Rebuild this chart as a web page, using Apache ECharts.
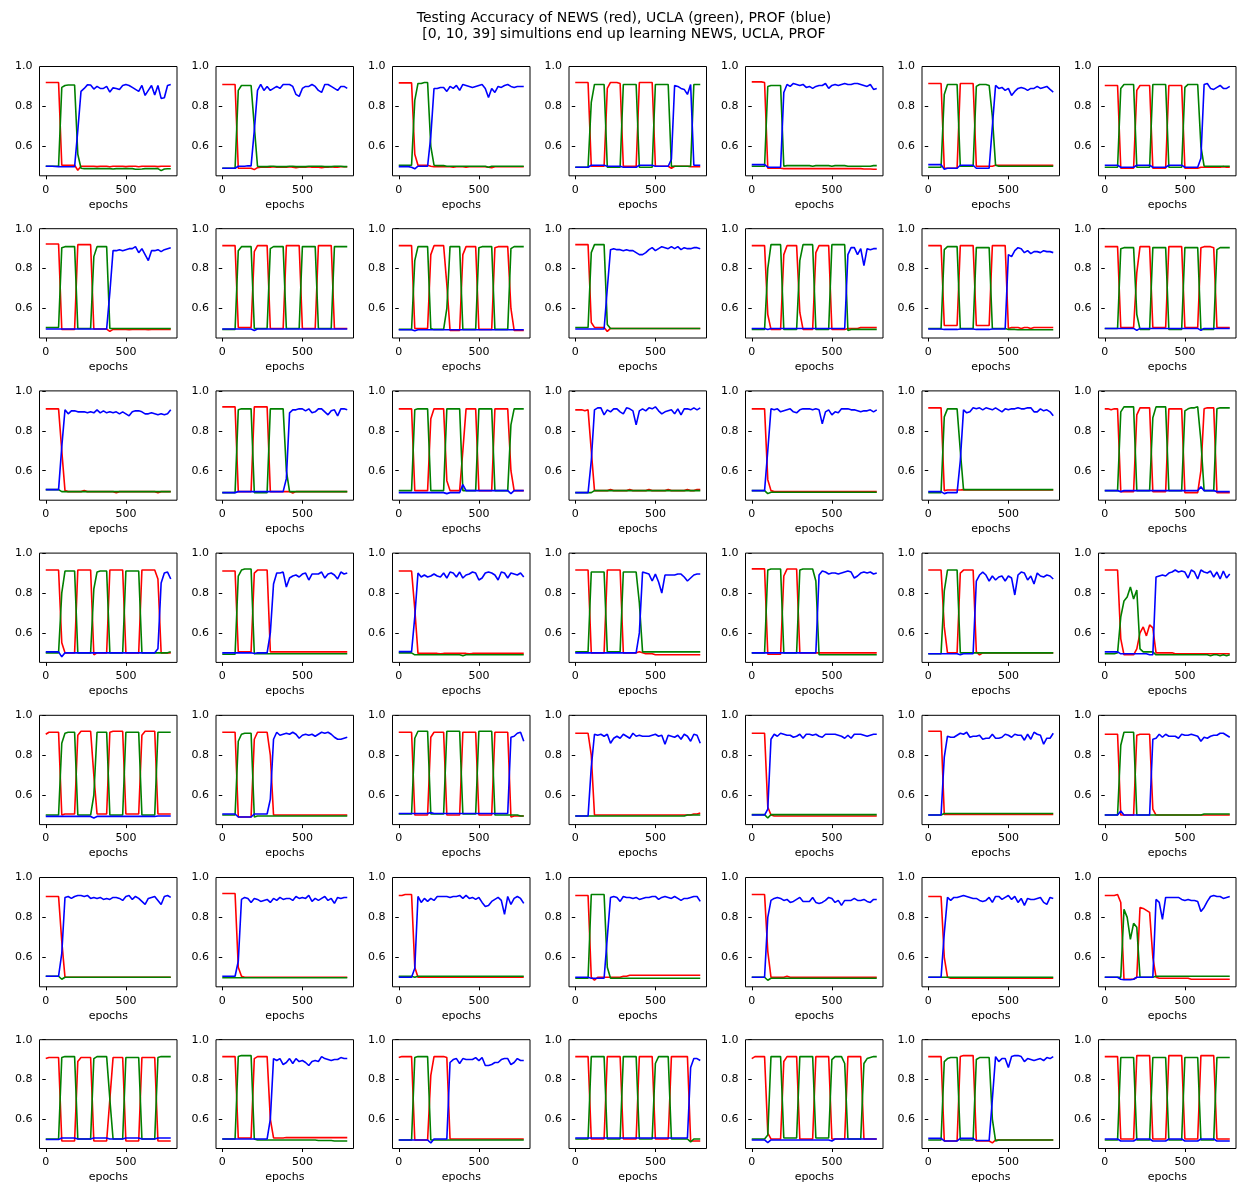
<!DOCTYPE html>
<html>
<head>
<meta charset="utf-8">
<script src="https://cdn.jsdelivr.net/npm/echarts@6.0.0/dist/echarts.min.js"></script>
<style>
html,body{margin:0;padding:0;background:#fff;}
#chart{width:1238px;height:1184px;}
</style>
</head>
<body>
<div id="chart"></div>
<script>
const TITLE_LINE1 = "Testing Accuracy of NEWS (red), UCLA (green), PROF (blue)";
const TITLE_LINE2 = "[0, 10, 39] simultions end up learning NEWS, UCLA, PROF";
const X_LABEL = "epochs";
const X_TICKS = [0, 500];
const Y_TICKS = [0.6, 0.8, 1.0];
const EPOCHS = [0,20,40,60,80,100,120,140,160,180,200,220,240,260,280,300,320,340,360,380,
                400,420,440,460,480,500,520,540,560,580,600,620,640,660,680,700,720,740,760,780];

// accuracy values x1000, one string per simulation (row-major), 40 points each
const NEWS = [
"920 920 920 920 920|505 505 505 505 505|480 500 500 500 500|500 498 500 500 500|497 500 500 500 500|498 500 500 500 497|500 500 500 500 500|498 500 500 500 500",
"910 910 910 910 910|490 490 490 490 490|483 493 495 495 495|495 497 495 495 495|495 497 495 493 495|495 495 497 495 495|495 493 495 495 497|495 495 497 497 497",
"918 918 918 918 918|560 505 505 505 505|500 497 497 497 497|497 497 495 497 497|497 495 497 497 497|497 497 497 495 493|497 497 497 497 497|497 497 497 497 497",
"920 920 920 920 920|500 500 500 500 500|890 920 920 920 915|500 500 500 500 500|920 920 920 920 920|500 500 500 500 500|490 500 500 500 500|500 498 497 497 497",
"923 923 923 923 920|490 490 490 490 490|488 488 488 488 488|488 488 488 488 488|488 488 488 488 488|488 488 488 488 488|488 488 488 488 488|486 486 486 485 485",
"915 915 915 915 915|490 490 490 490 490|915 915 915 915 915|500 500 500 500 500|500 505 505 505 505|505 505 505 505 505|505 505 505 505 505|505 505 505 505 505",
"905 905 905 905 905|490 490 490 490 490|880 905 905 905 905|490 490 490 490 490|905 905 905 905 905|490 490 490 490 490|495 495 495 495 495|495 495 498 495 495",

"923 923 923 923 923|495 495 495 495 495|920 920 920 920 920|497 497 497 497 497|485 495 495 495 495|495 493 495 495 495|495 495 493 495 495|495 495 495 495 495",
"915 915 915 915 915|505 505 505 505 505|885 915 915 915 915|500 500 500 500 500|915 915 915 915 915|500 500 500 500 500|915 915 915 915 915|500 500 500 500 500",
"915 915 915 915 915|500 500 500 500 500|870 915 915 915 915|720 490 490 490 490|870 910 910 910 910|495 495 495 495 495|905 910 910 910 910|600 490 490 490 490",
"920 920 920 920 920|530 505 505 505 505|485 500 500 500 500|500 500 500 500 500|500 500 500 500 500|500 500 500 500 500|500 500 500 500 500|500 500 500 500 500",
"915 915 915 915 915|570 495 495 495 495|870 915 915 915 915|580 495 495 495 495|880 915 915 915 915|495 495 495 495 495|500 500 500 500 505|505 505 505 505 505",
"915 915 915 915 915|515 515 515 515 515|915 915 915 915 915|515 515 515 515 515|915 915 915 915 915|500 505 505 505 500|505 505 500 505 505|505 505 505 505 505",
"910 910 910 910 910|505 505 505 505 505|780 910 910 910 910|505 505 505 505 505|910 910 910 910 910|505 505 505 505 505|905 910 910 910 905|505 505 505 505 505",

"910 910 910 910 910|700 500 495 495 495|495 495 500 495 495|495 495 495 495 495|495 495 490 495 495|495 495 495 495 495|495 495 495 495 495|490 495 495 495 495",
"920 920 920 920 920|495 495 495 495 495|920 920 920 920 920|495 495 495 495 495|495 495 488 495 495|495 495 495 495 495|495 495 495 495 495|495 495 495 495 495",
"910 910 910 910 910|500 500 500 500 500|860 910 910 910 910|550 500 500 500 500|700 910 910 910 910|500 500 500 500 500|910 910 910 910 910|600 500 500 500 500",
"905 905 905 900 905|700 500 500 500 500|500 505 500 500 500|500 500 505 500 500|500 500 500 505 500|500 500 500 500 505|500 500 500 500 500|505 500 500 505 505",
"910 910 910 910 910|555 500 495 495 495|495 495 495 495 495|495 495 495 495 495|495 495 495 495 495|495 495 495 495 495|495 495 495 495 495|495 495 495 495 495",
"915 915 915 915 915|500 503 503 503 503|503 505 503 503 503|503 503 503 503 503|503 503 503 503 503|503 503 503 503 503|503 503 503 503 503|503 503 503 503 503",
"910 910 905 910 910|495 495 495 495 495|880 915 915 915 915|495 495 495 495 495|910 910 910 910 910|490 490 490 490 490|600 910 915 915 915|490 490 490 490 490",

"915 915 915 915 915|550 500 500 500 500|915 915 915 915 915|490 500 500 500 500|915 915 915 915 915|500 500 500 500 500|915 915 915 915 915|870 500 500 500 500",
"910 910 910 910 910|505 505 505 505 505|900 915 915 915 915|505 505 505 505 505|505 505 505 505 505|505 505 505 505 505|505 505 505 505 505|505 505 505 505 505",
"910 910 910 910 910|720 497 497 497 497|497 497 497 495 497|497 497 497 497 497|497 497 495 497 497|497 497 497 497 497|497 497 497 497 497|497 497 497 497 497",
"915 915 915 915 915|500 500 500 500 500|915 915 915 915 915|500 500 500 500 500|505 500 495 495 495|490 490 490 490 490|490 490 490 490 490|490 490 490 490 490",
"921 921 921 921 921|493 493 493 493 493|885 920 920 920 920|500 500 500 500 500|500 500 500 500 500|500 500 500 500 500|500 500 500 500 500|500 500 500 500 500",
"915 915 915 915 915|630 500 500 500 500|900 915 915 915 915|505 490 500 500 500|500 500 500 500 500|500 500 500 500 500|500 500 500 500 500|500 500 500 500 500",
"915 915 915 915 915|570 490 490 490 490|520 600 630 585 640|625 500 500 500 500|500 500 495 495 495|495 495 495 495 495|495 495 495 495 495|495 495 495 495 495",

"905 915 915 915 915|500 505 505 505 505|900 920 920 920 920|700 505 505 505 505|915 920 920 920 920|505 505 505 505 505|900 920 920 920 920|505 505 505 505 505",
"915 915 915 915 915|490 490 490 490 490|880 915 915 915 915|800 500 500 500 500|500 500 500 500 500|500 500 500 500 500|500 500 500 500 500|500 500 500 500 500",
"915 915 915 915 915|500 500 500 500 500|890 915 915 915 915|500 500 500 500 500|915 915 915 915 915|500 500 500 500 500|915 915 915 915 915|490 495 495 495 495",
"910 910 910 910 910|800 500 500 500 500|500 500 500 500 500|500 500 500 500 500|500 500 500 500 500|500 500 500 500 500|500 500 500 500 500|500 500 505 505 510",
"910 910 910 910 910|540 500 495 495 495|495 495 495 495 495|495 495 495 495 495|495 495 495 495 495|495 495 495 495 495|495 495 495 495 495|495 495 495 495 495",
"920 920 920 920 920|503 503 503 503 503|503 503 503 503 503|503 503 503 503 503|503 503 503 503 503|503 503 503 503 503|503 503 503 503 503|503 503 503 503 503",
"905 905 905 905 905|500 500 500 500 500|900 905 905 905 905|530 500 500 500 500|500 500 500 500 500|500 500 500 500 500|500 500 500 500 500|500 500 500 500 500",

"905 905 905 905 905|680 500 500 500 500|500 500 500 500 500|500 500 500 500 500|500 500 500 500 500|500 500 500 500 500|500 500 500 500 500|500 500 500 500 500",
"920 920 920 920 920|550 505 500 500 500|500 500 500 500 500|500 500 500 500 500|500 500 500 500 500|500 500 500 500 500|500 500 500 500 500|500 500 500 500 500",
"910 910 915 915 915|550 500 500 500 500|500 500 500 500 500|500 500 500 500 500|500 500 500 500 500|500 500 500 500 500|500 500 500 500 500|500 500 500 500 500",
"910 910 910 910 910|500 485 500 500 500|500 500 500 500 500|505 505 510 510 510|510 510 510 510 510|510 510 510 510 510|510 510 510 510 510|510 510 510 510 510",
"915 915 915 915 915|630 500 500 500 500|500 505 500 500 500|500 500 500 500 500|500 500 500 500 500|500 500 500 500 500|500 500 500 500 500|500 500 500 500 500",
"905 905 905 905 905|600 500 495 495 495|495 495 495 495 495|495 495 495 495 495|495 495 495 495 495|495 495 495 495 495|495 495 495 495 495|495 495 495 495 495",
"910 910 910 910 915|875 490 490 490 490|500 850 845 835 825|600 500 495 495 495|495 495 495 495 495|495 495 490 490 490|490 490 490 490 490|490 490 490 490 490",

"905 910 910 910 910|490 490 490 490 490|890 910 910 910 910|490 490 490 490 490|700 910 910 910 910|490 490 490 490 490|910 910 910 910 910|490 490 490 490 490",
"915 915 915 915 915|505 505 505 505 505|905 915 915 915 915|600 505 505 505 505|507 507 507 507 507|507 507 507 507 507|507 507 507 507 507|507 507 507 507 507",
"910 915 915 915 915|495 495 495 495 495|820 915 915 915 915|910 500 500 500 500|500 500 500 500 500|500 500 500 500 500|500 500 500 500 500|500 500 500 500 500",
"915 915 915 915 915|500 500 500 500 500|915 915 915 915 915|500 500 500 500 500|915 915 915 915 915|500 500 500 500 500|915 915 915 915 915|915 490 490 490 490",
"905 915 915 915 915|530 500 500 500 500|890 915 915 915 915|500 500 500 500 500|915 915 915 915 915|500 500 500 500 500|915 915 915 915 915|500 500 500 500 500",
"915 915 915 915 915|490 490 490 490 490|915 920 920 920 920|490 490 490 490 490|480 495 495 495 495|495 495 495 495 495|495 495 495 495 495|495 495 495 495 495",
"915 915 915 915 915|500 500 500 500 500|920 920 920 920 920|500 500 500 500 500|920 920 920 920 920|500 500 500 500 500|920 920 920 920 920|500 500 500 500 500"
];

const UCLA = [
"500 500 500 500 500|895 905 907 907 907|560 490 488 488 488|488 488 488 488 488|488 486 488 488 488|488 488 488 485 485|486 488 488 488 488|488 478 486 487 487",
"490 490 490 490 490|880 905 905 905 905|700 500 498 498 498|500 500 498 498 498|498 500 500 498 498|498 498 500 500 500|500 500 498 498 498|500 500 500 498 498",
"505 505 505 505 505|830 915 915 920 920|600 505 503 503 503|500 500 500 500 500|500 500 500 500 500|500 500 500 495 500|500 500 500 500 500|500 500 500 500 500",
"495 495 495 495 495|820 910 910 910 910|495 495 495 495 495|910 910 910 910 910|495 495 495 495 495|910 910 910 910 910|500 500 500 500 500|500 500 910 910 910",
"500 500 500 500 500|900 905 905 905 905|500 503 503 503 503|503 503 503 503 500|503 503 503 503 503|500 503 503 503 503|500 500 500 500 500|500 500 500 503 503",
"495 495 495 495 495|860 910 910 910 910|500 500 500 500 500|900 910 910 910 905|750 505 500 500 500|500 500 500 500 500|500 500 500 500 500|500 500 500 500 500",
"495 495 495 495 495|890 910 910 910 910|495 495 495 495 495|910 910 910 910 910|495 495 495 495 495|895 910 910 910 910|600 500 500 500 500|500 500 500 500 500",

"505 505 505 505 505|905 910 910 910 910|500 500 500 500 500|860 910 910 910 910|500 500 500 500 500|500 500 500 500 500|500 500 500 500 500|500 500 500 500 500",
"495 495 495 495 495|890 910 910 910 910|500 500 500 500 500|900 910 910 910 910|500 500 500 500 500|910 910 910 910 910|500 500 500 500 500|910 910 910 910 910",
"495 495 495 495 495|840 910 910 910 910|500 495 495 495 495|600 910 910 910 910|495 495 495 495 495|905 910 910 910 910|495 495 495 495 495|900 910 910 910 910",
"505 505 505 505 505|880 920 920 920 920|520 500 500 500 500|500 500 500 500 500|500 500 500 500 500|500 500 500 500 500|500 500 500 500 500|500 500 500 500 500",
"495 495 495 495 495|800 920 920 920 920|495 495 495 495 495|840 920 920 920 920|495 495 495 495 495|920 920 920 920 920|490 495 495 495 495|495 495 495 495 495",
"500 500 500 500 500|895 910 910 910 910|500 500 500 500 500|905 905 905 905 905|500 500 500 500 500|495 495 495 493 493|493 493 493 493 493|493 493 493 493 493",
"500 500 500 500 500|900 905 905 905 905|570 495 495 495 495|905 905 905 905 905|495 495 495 495 495|905 905 905 905 905|495 495 495 495 495|895 905 905 905 905",

"505 505 505 505 505|495 495 495 495 495|495 495 495 495 495|495 495 495 495 495|495 495 495 495 495|495 495 495 495 495|495 495 495 495 495|495 495 495 495 495",
"490 490 490 490 490|905 910 910 910 910|490 490 490 490 490|910 910 910 910 910|600 495 495 495 495|495 495 495 495 495|495 495 495 495 495|495 495 495 495 495",
"500 500 500 500 500|905 910 910 910 910|500 500 500 500 500|910 910 910 910 910|500 500 500 500 500|910 910 910 910 910|500 500 500 500 500|830 910 910 910 910",
"490 490 490 490 490|490 500 500 500 500|500 500 500 500 500|500 500 500 500 500|500 500 500 500 500|500 500 500 500 500|500 500 500 500 500|500 500 500 500 500",
"500 500 500 500 500|485 492 492 492 492|492 492 492 492 492|492 492 492 492 492|492 492 492 492 492|492 492 492 492 492|492 492 492 492 492|492 492 492 492 492",
"490 490 490 490 490|870 910 910 910 910|700 505 505 505 505|505 505 505 505 505|505 505 505 505 505|505 505 505 505 505|505 505 505 505 505|505 505 505 505 505",
"500 500 500 500 500|895 920 920 920 920|500 500 500 500 500|865 920 920 920 920|500 500 500 500 500|900 910 915 915 920|750 500 500 500 500|910 915 915 915 915",

"500 500 500 500 500|800 910 910 910 910|500 500 500 500 500|820 905 910 910 910|500 500 500 500 500|910 910 910 910 910|500 500 500 500 500|500 500 500 500 505",
"493 493 493 493 493|885 915 920 920 920|495 495 495 495 495|495 495 495 495 495|495 495 495 495 495|495 495 495 495 495|495 495 495 495 495|495 495 495 495 495",
"500 500 500 500 500|490 490 490 490 490|490 490 490 490 490|490 490 490 490 490|485 490 490 490 490|490 490 490 490 490|490 490 490 490 490|490 490 490 490 490",
"505 505 505 505 505|905 905 905 905 905|505 505 505 505 505|905 905 905 905 905|750 505 505 505 505|505 505 505 505 505|505 505 505 505 505|505 505 505 505 505",
"500 500 500 500 500|915 920 920 920 920|500 500 500 500 500|915 920 920 920 920|860 490 490 490 490|490 490 490 490 490|490 490 490 490 490|490 490 490 490 490",
"495 495 495 495 495|810 915 915 915 915|500 500 500 500 500|500 500 500 500 500|500 500 500 500 500|500 500 500 500 500|500 500 500 500 500|500 500 500 500 500",
"495 495 495 495 500|680 760 780 830 770|815 520 505 505 505|505 490 490 490 490|490 490 490 490 490|490 490 490 490 490|490 490 490 485 490|490 485 490 485 490",

"500 500 500 500 500|860 910 915 915 915|500 500 500 500 500|600 915 915 915 915|500 500 500 500 500|915 915 915 915 915|500 500 500 500 500|915 915 915 915 915",
"500 500 500 500 500|870 905 910 910 910|490 495 495 495 495|495 495 495 495 495|495 495 495 495 495|495 495 495 495 495|495 495 495 495 495|495 495 495 495 495",
"505 505 505 505 505|885 920 920 920 920|505 505 505 505 505|920 920 920 920 920|505 505 505 505 505|920 920 920 920 920|500 500 500 500 500|500 500 500 495 495",
"495 495 495 495 495|495 495 495 495 495|495 495 495 495 495|495 495 495 495 495|495 495 495 495 495|495 495 495 495 495|495 495 495 495 495|500 500 500 500 500",
"502 502 502 502 502|485 502 502 502 502|502 502 502 502 502|502 502 502 502 502|502 502 502 502 502|502 502 502 502 502|502 502 502 502 502|502 502 502 502 502",
"500 500 500 500 500|508 508 508 508 508|508 508 508 508 508|508 508 508 508 508|508 508 508 508 508|508 508 508 508 508|508 508 508 508 508|508 508 508 508 508",
"500 500 500 500 500|850 915 915 915 915|500 500 500 500 500|500 500 500 500 500|500 500 500 500 500|500 500 500 500 500|500 505 505 505 505|505 505 505 505 505",

"505 505 505 505 505|490 500 500 500 500|500 500 500 500 500|500 500 500 500 500|500 500 500 500 500|500 500 500 500 500|500 500 500 500 500|500 500 500 500 500",
"497 497 497 497 497|497 497 497 497 497|497 497 497 497 497|497 497 497 497 497|497 497 497 497 497|497 497 497 497 497|497 497 497 497 497|497 497 497 497 497",
"505 505 505 505 505|500 505 505 505 505|505 505 505 505 505|505 505 505 505 505|505 505 505 505 505|505 505 505 505 505|505 505 505 505 505|505 505 505 505 505",
"495 495 495 495 495|915 915 915 915 915|550 495 495 495 495|495 495 495 495 495|495 495 495 495 495|495 495 495 495 495|495 495 495 495 495|495 495 495 495 495",
"500 500 500 500 500|485 495 495 495 495|495 495 495 495 495|495 495 495 495 495|495 495 495 495 495|495 495 495 495 495|495 495 495 495 495|495 495 495 495 495",
"500 500 500 500 500|500 500 500 500 500|500 500 500 500 500|500 500 500 500 500|500 500 500 500 500|500 500 500 500 500|500 500 500 500 500|500 500 500 500 500",
"500 500 500 500 500|500 840 800 690 770|750 500 500 500 500|500 505 505 505 505|505 505 505 505 505|505 505 505 505 505|505 505 505 505 505|505 505 505 505 505",

"500 500 500 500 500|910 915 915 915 915|500 500 500 500 500|905 915 915 915 915|700 500 500 500 500|910 910 910 910 910|500 500 500 500 500|910 915 915 915 915",
"500 500 500 500 500|915 920 920 920 920|500 495 495 495 495|495 495 495 495 495|495 495 495 495 495|495 495 495 495 495|492 492 492 492 492|490 490 490 490 490",
"495 495 495 495 495|910 915 915 915 915|495 495 495 495 495|495 495 495 495 495|495 495 495 495 495|495 495 495 495 495|495 495 495 495 495|495 495 495 495 495",
"500 500 500 500 500|915 915 915 915 915|500 500 500 500 500|915 915 915 915 915|500 500 500 500 500|880 915 915 915 915|500 500 500 500 500|500 485 500 500 500",
"500 500 500 500 500|520 915 915 915 915|505 505 505 505 505|915 915 915 915 915|505 505 505 505 505|900 915 915 915 880|500 500 500 500 500|880 905 910 915 915",
"495 495 495 495 495|890 905 910 910 910|495 495 495 495 495|900 910 910 910 910|600 490 495 495 495|495 495 495 495 495|495 495 495 495 495|495 495 495 495 495",
"495 495 495 495 495|910 910 910 910 910|495 495 495 495 495|910 910 910 910 910|495 495 495 495 495|910 910 910 910 910|495 495 495 495 495|910 910 910 910 910"
];

const PROF = [
"500 500 500 499 498|497 497 497 497 497|680 875 890 908 907|887 900 890 890 900|872 893 890 885 905|910 905 895 885 875|905 855 880 905 857|905 840 843 905 910",
"490 490 490 490 490|500 500 500 502 502|680 880 910 880 900|880 890 900 890 910|910 910 900 860 850|890 900 900 910 900|880 870 910 910 900|890 880 900 900 890",
"498 498 498 498 495|487 500 500 500 500|650 890 890 895 895|875 900 890 905 880|910 905 900 895 900|905 910 890 845 890|870 900 895 905 910|900 895 900 900 900",
"495 495 495 495 495|505 505 505 505 505|500 500 500 500 500|495 495 495 495 495|505 505 505 505 505|500 500 500 500 500|535 905 900 890 885|860 910 505 505 505",
"508 508 508 508 508|495 495 495 495 495|870 910 900 915 910|905 910 895 900 890|900 905 905 915 890|905 910 905 910 915|910 910 915 915 910|905 900 910 885 890",
"508 508 508 508 508|485 490 490 490 490|505 505 505 505 505|490 490 490 490 490|700 905 890 895 880|890 855 875 890 895|890 880 890 890 900|890 895 900 885 872",
"505 505 505 505 505|495 495 495 495 495|505 505 505 505 505|495 495 495 495 495|505 505 505 505 505|495 495 495 495 495|540 910 915 890 885|895 905 890 890 900",

"497 497 497 497 497|497 497 497 497 497|497 497 497 497 497|497 497 497 497 497|680 890 890 895 890|895 900 900 910 880|900 870 840 890 890|895 885 895 900 905",
"497 497 497 497 497|497 497 497 497 497|490 497 497 497 497|497 497 497 497 497|497 497 497 497 497|497 497 497 497 497|497 497 497 497 497|497 497 497 497 497",
"493 493 493 493 493|488 493 493 493 493|493 493 493 493 493|493 493 493 493 493|493 493 493 493 493|493 493 493 493 493|493 493 493 493 493|493 493 493 493 493",
"497 497 497 497 497|497 497 497 497 497|700 895 900 895 895|890 895 890 890 880|870 870 880 895 905|890 900 910 905 900|910 900 910 895 905|900 900 905 905 900",
"500 500 500 500 500|495 500 500 500 500|500 500 500 500 500|500 500 500 500 500|500 500 500 500 500|500 500 500 500 500|870 905 905 870 900|815 900 895 900 900",
"497 497 497 497 497|495 495 495 495 495|497 497 497 497 497|495 495 495 495 495|497 497 497 497 497|870 860 890 905 900|880 890 875 885 885|880 890 885 885 880",
"500 500 500 500 500|500 500 500 500 500|490 500 500 500 500|500 500 500 500 500|500 500 500 500 500|500 500 500 500 500|490 500 500 500 500|500 500 500 500 500",

"505 505 505 505 505|720 905 885 900 900|895 895 895 890 895|890 905 890 900 890|895 890 895 885 895|885 875 895 900 900|895 885 885 890 885|880 885 880 885 905",
"490 490 490 490 490|495 495 495 495 495|495 495 495 495 495|495 495 495 495 495|560 890 905 905 910|910 900 910 890 895|910 910 895 880 900|905 875 910 910 905",
"490 490 490 490 490|490 490 490 490 490|490 490 490 490 490|485 490 490 490 490|530 500 500 500 500|500 500 500 500 500|500 500 500 500 500|485 500 500 500 500",
"490 490 490 490 490|650 905 915 915 880|905 895 910 910 895|885 915 910 900 830|900 910 900 915 910|920 900 885 895 900|905 885 910 880 910|910 905 915 905 915",
"500 500 500 500 500|700 910 905 910 895|900 905 910 895 890|905 910 910 910 905|910 905 835 895 905|880 895 890 910 910|910 905 905 900 895|900 900 905 895 905",
"495 495 495 495 495|485 490 490 490 490|650 905 890 895 915|910 915 905 915 910|905 915 905 895 910|905 910 910 915 910|910 915 915 895 895|910 900 905 895 875",
"500 500 500 500 500|495 500 500 500 500|500 500 500 500 500|500 500 500 500 500|500 500 500 500 500|500 500 500 500 500|520 500 500 500 500|495 495 495 495 495",

"505 505 505 505 505|480 500 500 500 500|500 500 500 500 500|500 500 500 500 500|500 500 500 500 500|500 500 500 500 500|500 500 500 500 500|520 850 900 905 870",
"500 500 500 500 500|500 500 500 500 500|497 500 500 500 500|600 845 900 900 905|830 875 885 890 880|895 900 865 895 895|895 905 875 895 900|890 870 905 895 900",
"506 506 506 506 506|680 900 880 890 880|885 895 885 880 900|875 905 900 880 905|875 890 895 905 900|865 875 900 905 900|890 865 905 900 875|900 895 890 900 880",
"500 500 500 500 500|500 500 500 500 500|500 500 500 500 500|500 500 500 500 500|600 905 900 895 860|895 855 800 890 890|890 890 895 895 880|860 875 890 895 895",
"500 500 500 500 500|500 500 500 500 500|500 500 500 500 500|500 500 500 500 500|500 890 910 905 895|900 900 895 900 905|910 905 875 885 900|905 900 905 895 900",
"495 495 495 495 495|495 495 495 495 495|490 495 495 495 495|860 890 905 890 860|885 865 880 885 860|885 875 790 890 905|900 865 885 845 900|885 880 890 885 870",
"505 505 505 505 505|495 495 495 495 495|495 495 495 495 490|490 880 885 890 885|900 905 915 905 910|905 875 915 905 870|915 905 900 910 880|905 870 910 875 895",

"493 493 493 493 493|493 493 493 493 493|493 493 493 493 493|485 493 493 493 493|493 493 493 493 493|493 493 493 493 493|493 493 493 493 493|495 495 495 495 495",
"505 505 505 505 505|490 490 490 490 490|505 505 505 505 505|580 880 915 900 905|910 905 915 905 885|900 905 900 905 895|905 915 910 915 905|890 880 880 885 890",
"508 508 508 508 508|508 508 508 508 508|512 508 508 508 508|508 508 508 508 508|508 508 508 508 508|508 508 508 508 508|508 508 508 508 508|890 895 910 915 870",
"495 495 495 495 495|740 905 900 905 895|905 860 885 895 885|905 895 885 910 895|900 895 895 895 900|905 895 900 855 900|895 890 900 880 905|895 870 905 900 860",
"500 500 500 500 500|530 880 905 895 910|905 900 900 890 895|905 885 905 905 900|905 895 890 905 905|905 905 900 895 885|900 885 905 905 905|900 895 900 905 905",
"500 500 500 500 500|790 895 890 890 900|910 905 915 890 895|895 900 880 885 885|905 885 885 890 905|900 890 905 900 900|875 905 880 915 905|900 855 885 885 910",
"500 500 500 500 500|520 500 500 500 500|500 500 500 500 500|880 885 905 890 905|895 895 895 885 905|900 900 905 900 895|870 890 885 895 900|900 910 910 900 890",

"505 505 505 505 505|620 900 905 895 905|910 910 905 910 895|900 895 900 890 895|890 900 900 895 885|905 910 890 905 895|880 865 895 900 905|885 865 905 910 900",
"505 505 505 505 505|580 890 900 895 875|895 890 880 885 890|875 895 885 900 890|895 895 885 905 895|900 895 910 880 895|885 895 905 885 895|870 900 895 900 900",
"500 500 500 500 500|545 905 875 895 880|895 885 905 905 905|905 900 905 905 910|895 910 895 900 890|900 875 855 860 880|890 900 885 815 905|865 895 905 895 870",
"500 500 500 500 500|495 495 495 495 495|700 900 905 900 880|905 900 900 895 900|890 895 900 900 905|905 890 900 905 900|895 905 895 885 895|895 900 905 905 880",
"500 500 500 500 500|800 885 895 900 895|885 890 875 880 890|900 880 880 880 900|875 870 875 885 900|895 875 885 860 885|885 885 895 885 885|890 880 875 890 890",
"500 500 500 500 500|720 900 885 900 900|905 910 905 900 895|895 885 880 885 900|875 905 905 890 900|910 890 905 875 895|860 895 890 890 895|900 875 865 900 895",
"500 500 500 500 500|490 487 487 487 490|500 500 500 500 500|500 890 875 790 900|900 900 900 900 890|885 890 885 885 880|830 850 880 905 910|905 905 895 900 905",

"497 497 497 497 497|505 505 505 505 505|500 500 500 500 500|505 505 505 505 505|500 500 500 500 500|505 505 505 505 505|500 500 500 500 500|505 505 505 505 505",
"500 500 500 500 500|500 500 500 500 500|500 500 500 500 500|600 905 895 905 875|885 905 880 905 890|895 885 870 890 895|890 915 905 900 895|900 900 910 905 905",
"495 495 495 495 495|495 495 495 495 495|480 500 500 500 500|500 885 900 905 880|905 900 900 900 910|895 910 870 870 875|885 885 900 905 905|875 885 905 895 895",
"505 505 505 505 505|505 505 505 505 505|505 505 505 505 505|505 505 505 505 505|505 505 505 505 505|505 505 505 505 505|505 505 505 505 505|505 860 905 905 895",
"495 495 495 495 495|482 495 495 495 495|495 495 495 495 495|495 495 495 495 495|495 495 495 495 495|490 500 500 500 500|500 500 500 500 500|500 500 500 500 500",
"503 503 503 503 503|490 490 490 490 490|503 503 503 503 503|492 492 492 492 492|700 915 890 905 905|860 915 920 920 915|890 905 900 895 900|905 895 910 905 915",
"500 500 500 500 500|490 490 490 490 490|500 500 500 500 500|490 490 490 490 490|500 500 500 500 500|490 490 490 490 490|500 500 500 500 500|490 490 490 490 490"
];

function parseSeries(s) {
  const v = s.split(/[\s|]+/).filter(Boolean).map(t => Number(t) / 1000);
  if (v.length !== EPOCHS.length) console.error('bad length', v.length, s);
  return v;
}

const FONT = "DejaVu Sans";
const NCOL = 7, NROW = 7;
const GX0 = 39.5, GDX = 176.5, GY0 = 66.5, GDY = 162.2, GW = 137.5, GH = 109.3;

const grids = [], xAxes = [], yAxes = [], series = [];
const SETS = [
  {name: 'NEWS', data: NEWS, color: '#ff0000'},
  {name: 'UCLA', data: UCLA, color: '#008000'},
  {name: 'PROF', data: PROF, color: '#0000ff'}
];

for (let p = 0; p < NROW * NCOL; p++) {
  const r = Math.floor(p / NCOL), c = p % NCOL;
  grids.push({
    left: GX0 + c * GDX, top: GY0 + r * GDY, width: GW, height: GH,
    show: true, borderColor: '#000', borderWidth: 1, backgroundColor: 'transparent',
    containLabel: false
  });
  xAxes.push({
    type: 'value', gridIndex: p, min: -39, max: 819,
    name: X_LABEL, nameLocation: 'middle', nameGap: 23.5,
    nameTextStyle: {fontFamily: FONT, fontSize: 11, color: '#000'},
    axisLine: {show: false},
    axisTick: {show: true, inside: false, length: 3.5, customValues: X_TICKS, lineStyle: {color: '#000', width: 1}},
    axisLabel: {show: true, customValues: X_TICKS, margin: 8.5, fontFamily: FONT, fontSize: 11, color: '#000'},
    splitLine: {show: false}
  });
  yAxes.push({
    type: 'value', gridIndex: p, min: 0.452, max: 1.0,
    axisLine: {show: false},
    axisTick: {show: true, inside: false, length: 3.5, customValues: Y_TICKS, lineStyle: {color: '#000', width: 1}},
    axisLabel: {show: true, customValues: Y_TICKS, margin: 7, fontFamily: FONT, fontSize: 11, color: '#000',
                formatter: v => Number(v).toFixed(1)},
    splitLine: {show: false}
  });
  SETS.forEach((s, k) => {
    const vals = parseSeries(s.data[p]);
    series.push({
      type: 'line', name: s.name, xAxisIndex: p, yAxisIndex: p,
      data: EPOCHS.map((e, i) => [e, vals[i]]),
      showSymbol: false, symbol: 'none', silent: true,
      lineStyle: {color: s.color, width: 1.6},
      itemStyle: {color: s.color},
      z: 2 + k, animation: false
    });
  });
}

const chart = echarts.init(document.getElementById('chart'), null, {renderer: 'canvas'});
chart.setOption({
  animation: false,
  backgroundColor: '#ffffff',
  grid: grids, xAxis: xAxes, yAxis: yAxes, series: series,
  graphic: [
    {type: 'text', x: 624, y: 18.7, silent: true,
     style: {text: TITLE_LINE1, fontFamily: FONT, fontSize: 14, fill: '#000', align: 'center', verticalAlign: 'middle'}},
    {type: 'text', x: 624, y: 34, silent: true,
     style: {text: TITLE_LINE2, fontFamily: FONT, fontSize: 14, fill: '#000', align: 'center', verticalAlign: 'middle'}}
  ]
});
</script>
</body>
</html>
